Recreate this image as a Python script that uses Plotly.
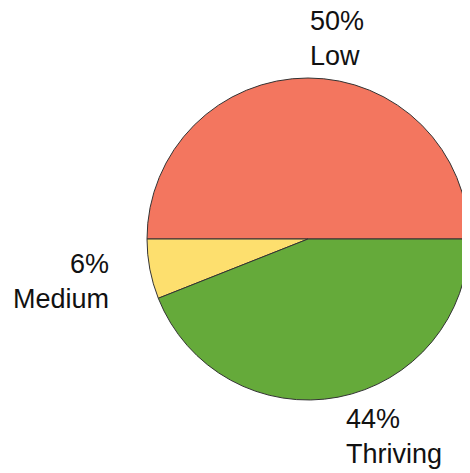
import math
import plotly.graph_objects as go

labels = ["Low", "Medium", "Thriving"]
values = [50, 6, 44]
colors = ["#F3765F", "#FDDF6E", "#65AA3A"]

# the page body adds an 8px margin; the figure is sized/positioned to compensate
OFF = 8
W, H = 470 - OFF, 473 - OFF
dom_x = [(147 - OFF) / W, (469 - OFF) / W]
dom_y = [1 - (400 - OFF) / H, 1 - (78 - OFF) / H]

fig = go.Figure(go.Pie(
    labels=labels, values=values, sort=False,
    direction="counterclockwise", rotation=-90,
    marker=dict(colors=colors, line=dict(color="#333333", width=1)),
    textinfo="none", hoverinfo="label+percent",
    domain=dict(x=dom_x, y=dom_y), showlegend=False,
))

# label placement derived from slice mid-angles
cx = (dom_x[0] + dom_x[1]) / 2 * W
cy = (1 - (dom_y[0] + dom_y[1]) / 2) * H
r = min((dom_x[1] - dom_x[0]) * W, (dom_y[1] - dom_y[0]) * H) / 2
gap = 7
total = sum(values)
start = 0.0
annotations = []
for lab, v in zip(labels, values):
    frac = v / total
    mid = math.radians(start + frac * 360 / 2)
    start += frac * 360
    c, s = math.cos(mid), math.sin(mid)
    px = cx + (r + gap) * c
    py = cy - (r + gap) * s
    if s > 0.5:
        yanchor = "bottom"
        py += 2
    elif s < -0.5:
        yanchor = "top"
        px += 5
        py -= 2
    else:
        yanchor = "middle"
        px += 32 * (1 if c >= 0 else -1)
        py += 11
    xanchor = "left" if c >= -1e-9 else "right"
    pct = round(frac * 100)
    annotations.append(dict(
        x=px / W, y=1 - py / H, xref="paper", yref="paper",
        text=f"{pct}%<br>{lab}", showarrow=False,
        xanchor=xanchor, yanchor=yanchor,
        align="left" if xanchor == "left" else "right",
        font=dict(family="Liberation Sans, Arial, sans-serif", size=27, color="#111111"),
    ))

fig.update_layout(
    width=W, height=H,
    margin=dict(l=0, r=0, t=0, b=0),
    paper_bgcolor="white", plot_bgcolor="white",
    annotations=annotations,
)

fig.write_html("out.html")
